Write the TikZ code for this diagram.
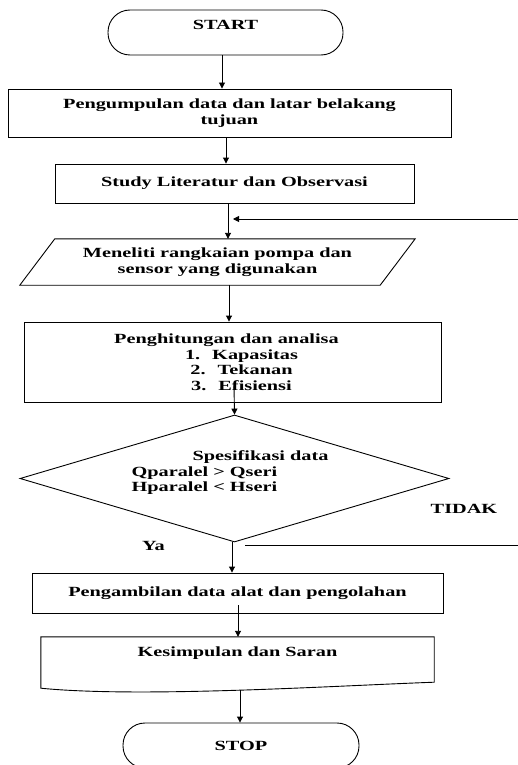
\documentclass[tikz,border=0pt]{standalone}
\usepackage{fontspec}
\setmainfont{Liberation Serif}[FakeStretch=1.45]
\usetikzlibrary{arrows.meta,shapes.geometric}
\tikzset{
  line/.style={line width=0.9pt, draw=black},
  arr/.style={line, -{Triangle[length=6pt,width=6pt]}},
  term/.style={line, rounded corners=22pt, inner sep=0pt},
  box/.style={line, rectangle, inner sep=0pt, align=center},
  plain/.style={inner sep=0pt, align=center},
  dec/.style={line, diamond, inner sep=0pt},
}
\begin{document}
\begin{tikzpicture}[x=1pt, y=-1pt, font=\fontsize{14}{15.5}\selectfont\bfseries]
\useasboundingbox (0,0) rectangle (518,765);

% terminators and boxes
\node[term, minimum width=235pt, minimum height=45pt, text depth=15pt] (start) at (225.5,32.5) {START};
\node[box, minimum width=443pt, minimum height=48pt] (b1) at (229.5,113) {Pengumpulan data dan latar belakang\\tujuan};
\node[box, minimum width=359pt, minimum height=39pt] (b2) at (234.5,183.5) {Study Literatur dan Observasi};
\node[plain, minimum width=360pt, minimum height=46pt] (p) at (217.5,262) {Meneliti rangkaian pompa dan\\sensor yang digunakan};
\draw[line] ([xshift=17.5pt]p.north west) -- ([xshift=17.5pt]p.north east) -- ([xshift=-17.5pt]p.south east) -- ([xshift=-17.5pt]p.south west) -- cycle;
\node[box, minimum width=417pt, minimum height=80pt] (b3) at (232.5,362) {Penghitungan dan analisa\hspace*{12pt}\\\hspace*{18pt}1.\hspace{12pt}Kapasitas\\\hspace*{18pt}2.\hspace{12pt}Tekanan\\\hspace*{18pt}3.\hspace{12pt}Efisiensi};
\node[dec, minimum width=429pt, minimum height=127pt] (d) at (234.5,478.5) {};
\node[plain, align=left] (dtext) at (230,473) {\hspace*{61pt}Spesifikasi data\\Qparalel > Qseri\\Hparalel < Hseri};
\node[plain] (tidak) at (464,509) {TIDAK};
\node[plain] (ya) at (153.5,546) {Ya};
\node[box, minimum width=411pt, minimum height=40pt] (b4) at (237.5,593) {Pengambilan data alat dan pengolahan};
\node[plain, minimum width=393pt, minimum height=46pt, text depth=16pt] (doc) at (237.5,660) {Kesimpulan dan Saran};
\draw[line] (doc.north east) -- ([yshift=1pt]doc.south east)
  .. controls (330,686) and (140,698) .. ([yshift=-5pt]doc.south west) -- (doc.north west) -- cycle;
\node[term, minimum width=236pt, minimum height=45pt] (stop) at (241,745.5) {STOP};

% connectors
\draw[arr] ([xshift=-3.5pt]start.south) -- ([xshift=-3.5pt]start.south |- b1.north);
\draw[arr] ([xshift=-3.5pt]b1.south) -- ([xshift=-3.5pt]b1.south |- b2.north);
\coordinate (join) at (228,219);
\draw[arr] ([xshift=-6.5pt]b2.south) -- ([xshift=-6.5pt]b2.south |- p.north);
\draw[arr] ([xshift=11.5pt]p.south) -- ([xshift=11.5pt]p.south |- b3.north);
\draw[arr] ([xshift=1.5pt,yshift=16pt]b3.south) -- (d.north);
\draw[arr] ([xshift=-2.5pt]d.south) -- ([xshift=-2.5pt]d.south |- b4.north);
\draw[arr] ([xshift=0.5pt,yshift=8pt]b4.south) -- ([xshift=0.5pt]b4.south |- doc.north);
\draw[arr] ([xshift=2.5pt,yshift=-7pt]doc.south) -- ([xshift=2.5pt]doc.south |- stop.north);
% TIDAK loop back (vertical part lies beyond the right edge)
\draw[arr] ([xshift=10.5pt,yshift=-3pt]d.south) -- ++(290,0) |- ([xshift=5pt]join);
\end{tikzpicture}
\end{document}
